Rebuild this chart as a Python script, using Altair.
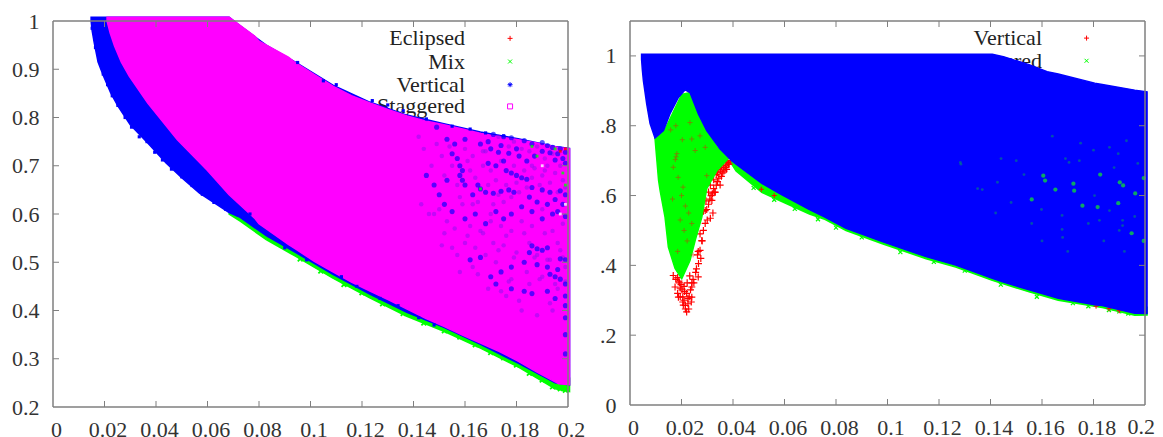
import altair as alt
import pandas as pd

RED, GREEN, BLUE, MAGENTA = "#ff0000", "#00ff00", "#0000ff", "#ff00ff"
FONT = "Liberation Serif"
W, HL, HR = 515, 386, 384

# ---------- left panel ----------
l_ticks_x = [0, .02, .04, .06, .08, .1, .12, .14, .16, .18, .2]
l_ticks_y = [.2, .3, .4, .5, .6, .7, .8, .9, 1]
l_green_x = [.0684, .0727, .0828, .0943, .1087, .123, .1374, .1518, .166, .1806, .195, .2006]
l_green_lo = [.60, .585, .547, .512, .467, .426, .388, .357, .322, .283, .238, .232]
l_green_hi = [.62, .60, .565, .53, .49, .45, .41, .38, .345, .31, .27, .26]
l_blue_x = [.0148, .0152, .016, .0175, .0196, .0225, .0253, .03, .0368, .044, .05, .0569, .0684, .0727, .0828, .0943, .1087, .123, .1374, .1518, .166, .1806, .195, .2006]
l_blue_lo = [1.0, .98, .955, .915, .886, .85, .823, .785, .747, .705, .675, .643, .603, .593, .555, .52, .475, .434, .396, .365, .330, .291, .25, .246]
l_blue_hi = [1.008] * 13 + [.99, .95, .914, .867, .832, .805, .787, .77, .756, .74, .736]
l_mag_x = [.021, .0222, .0239, .0265, .0296, .0368, .0483, .0598, .0684, .0785, .08, .0914, .0943, .1015, .1087, .1159, .1231, .1303, .1375, .1447, .1518, .159, .1662, .1734, .1806, .1878, .1964, .2006]
l_mag_lo = [1.0, .975, .948, .915, .886, .83, .754, .691, .64, .59, .58, .537, .527, .502, .48, .459, .44, .422, .403, .384, .367, .349, .332, .315, .295, .273, .248, .246]
l_mag_hi = [1.008] * 9 + [.968, .958, .925, .913, .889, .865, .845, .83, .816, .803, .793, .785, .776, .767, .76, .754, .747, .738, .735]
l_speck_x = [.190, .192, .194, .197, .199, .196, .193, .190, .198, .199, .195, .186, .183, .178, .175, .171, .169, .174, .18, .187, .184, .181, .177, .173, .17, .166, .16, .156, .153, .149,
             .158, .159, .158, .159, .16, .157, .155, .178, .18, .182, .184, .176, .172, .169, .175, .166, .168, .171, .174, .177, .179, .165, .163,
             .186, .19, .193, .197, .199, .195, .192, .188, .185, .198, .196, .199, .194, .19, .186, .182, .178, .175, .172, .168, .164, .16, .155, .152, .15, .148, .153, .145,
             .186, .188, .19, .192, .185, .197, .199, .196, .195, .197, .193, .199, .199, .199, .192, .188, .183, .178, .174, .17, .166, .162, .172, .178, .183, .186, .192, .195, .199, .199, .199]
l_speck_y = [.748, .742, .738, .735, .728, .725, .727, .73, .715, .705, .712, .745, .752, .758, .76, .765, .75, .742, .735, .72, .71, .72, .726, .728, .735, .745, .755, .745, .755, .78,
             .70, .69, .68, .67, .66, .715, .725, .685, .68, .675, .672, .69, .70, .705, .71, .652, .645, .643, .647, .65, .645, .66, .64,
             .655, .65, .645, .648, .64, .63, .62, .625, .635, .62, .605, .595, .60, .59, .605, .615, .60, .59, .605, .58, .60, .59, .605, .62, .64, .66, .67, .68,
             .534, .528, .525, .53, .52, .507, .505, .485, .47, .465, .475, .455, .43, .41, .49, .495, .50, .49, .48, .47, .51, .505, .455, .445, .44, .435, .44, .425, .385, .35, .31]
l_fuzz_x = [.142, .144, .147, .149, .151, .152, .154, .155, .157, .158, .16, .161, .162, .163, .164, .165, .167, .168, .169, .17, .171, .172, .173, .174, .175, .176, .177, .178, .179, .18,
            .181, .182, .183, .184, .185, .186, .187, .188, .189, .19, .191, .192, .193, .194, .195, .196, .197, .198, .199, .143, .146, .15, .153, .156, .159, .162, .166, .17, .174, .178,
            .182, .186, .19, .194, .198, .161, .164, .167, .171, .173, .176, .179, .183, .185, .188, .191, .193, .196, .198, .152, .155, .157, .16, .163, .168, .172, .175, .177, .18, .184,
            .187, .189, .192, .195, .197, .199, .148, .151, .158, .165, .169, .174, .178, .181, .185, .19, .193, .196, .163, .17, .176, .182, .188, .194, .199, .167, .173, .179, .186, .191]
l_fuzz_y = [.76, .735, .70, .745, .72, .68, .74, .70, .66, .635, .735, .71, .69, .72, .675, .625, .70, .73, .66, .69, .62, .67, .64, .71, .625, .66, .74, .635, .70, .665,
            .645, .735, .69, .655, .73, .675, .695, .74, .66, .68, .715, .70, .665, .725, .685, .645, .70, .67, .655, .62, .60, .61, .585, .57, .62, .575, .565, .60, .575, .565,
            .585, .575, .61, .565, .58, .555, .53, .56, .54, .525, .555, .51, .56, .54, .515, .56, .505, .54, .51, .56, .53, .515, .54, .49, .515, .50, .535, .46, .52, .48,
            .51, .465, .505, .455, .525, .49, .60, .535, .48, .475, .445, .44, .465, .42, .455, .47, .415, .445, .62, .585, .43, .40, .39, .40, .46, .73, .76, .75, .70, .69]
l_edge_x = [.095, .105, .11, .124, .13, .136, .145, .155, .162, .168, .175, .0765, .084, .09, .0985, .112, .118, .127, .134, .142, .148]
l_edge_y = [.914, .876, .868, .835, .826, .814, .797, .782, .776, .768, .762, .60, .555, .53, .505, .47, .45, .425, .41, .385, .37]
l_jag_x = [.0152, .0165, .0178, .0195, .0212, .023, .0252, .028, .0305, .0335, .0365, .0395, .0425, .046, .05, .054, .058, .0625, .067, .072]
l_jag_y = [.985, .945, .92, .89, .868, .845, .825, .80, .78, .76, .75, .728, .712, .693, .677, .659, .641, .624, .61, .597]
l_rim_x = [.096, .104, .113, .12, .128, .136, .144, .152, .158, .164, .17, .175, .18, .185, .19, .194, .197, .199]
l_rim_y = [.507, .482, .454, .437, .414, .394, .374, .358, .345, .329, .313, .302, .287, .27, .256, .242, .238, .235]
l_spark_x = [.188, .166, .198, .197, .199, .19, .199, .195, .186, .197, .199]
l_spark_y = [.72, .652, .685, .6, .66, .70, .735, .735, .74, .73, .62]
l_spark_c = [GREEN, GREEN, GREEN, "white", GREEN, "white", RED, GREEN, GREEN, RED, "white"]
l_legend_labels = ["Eclipsed", "Mix", "Vertical", "Staggered"]
l_legend_y = [.964, .916, .868, .823]
l_legend_colors = [RED, GREEN, BLUE, MAGENTA]
l_legend_shapes = ["M-1,0L1,0M0,-1L0,1", "M-.8,-.8L.8,.8M-.8,.8L.8,-.8",
                   "M-1,0L1,0M0,-1L0,1M-.7,-.7L.7,.7M-.7,.7L.7,-.7", "M-1,-1L1,-1L1,1L-1,1Z"]

# ---------- right panel ----------
r_ticks_x = l_ticks_x
r_ticks_y = [0, .2, .4, .6, .8, 1]
r_rim_x = [.0395, .0412, .0512, .0583, .0697, .0753, .0839, .098, .115, .1265, .1407, .155, .1663, .1834, .196, .2008]
r_rim_lo = [.69, .67, .609, .585, .547, .533, .5, .462, .419, .395, .357, .324, .30, .279, .257, .258]
r_rim_hi = [.72, .71, .66, .63, .58, .56, .52, .49, .44, .42, .38, .35, .32, .30, .28, .28]
r_green_x = [.0097, .0111, .0117, .0136, .0149, .0175, .0201, .0233, .0253, .0279, .0292, .0298, .0337, .0382, .0395]
r_green_lo = [.765, .643, .614, .538, .452, .391, .362, .414, .471, .538, .595, .62, .671, .706, .71]
r_green_hi = [.765, .775, .778, .79, .81, .85, .89, .895, .86, .82, .80, .79, .74, .71, .71]
r_blue_x = [.0045, .0048, .0052, .0065, .0078, .0097, .0130, .0155, .0188, .0214, .0233, .0266, .0298, .035, .0395, .0412, .0512, .0583, .0697, .0753, .0839, .098, .115, .1265, .1407, .145, .155, .162, .1663, .1805, .1834, .196, .2008]
r_blue_lo = [.99, .96, .929, .862, .806, .765, .786, .834, .881, .903, .895, .833, .786, .733, .70, .69, .635, .605, .56, .54, .506, .468, .425, .401, .363, .352, .33, .315, .306, .287, .285, .263, .262]
r_blue_hi = [1.005] * 25 + [.998, .975, .955, .948, .922, .918, .902, .897]
r_red_x = [.022, .0215, .0225, .021, .023, .0205, .0235, .0195, .024, .019, .0245, .0185, .022, .021, .0225, .0175, .0168, .0188, .0207, .024, .024, .0265, .0266, .0272, .0279, .0292, .0292, .0318, .033,
           .0298, .0305, .031, .0315, .032, .0325, .033, .0335, .034, .0345, .035, .0355, .036, .0365, .037, .0375, .038, .0385, .039, .0335, .0345, .0355, .0365, .0375, .0312, .0322,
           .0258, .0262, .0285, .028, .0275, .03, .0178, .0185, .0195, .0205, .0215, .0228, .0238, .0248, .0255, .0265, .0272, .0285, .0295, .0305, .0312, .0325, .034, .0352, .0362, .0372, .0382, .0198, .0212, .0222, .0232, .0192, .0202]
r_red_y = [.2666, .285, .29, .30, .31, .31, .33, .335, .35, .355, .36, .365, .32, .34, .305, .338, .371, .309, .286, .309, .338, .367, .405, .443, .471, .52, .557, .586, .609,
           .56, .575, .59, .60, .605, .62, .61, .63, .64, .65, .63, .655, .665, .67, .68, .675, .695, .69, .70, .66, .675, .685, .695, .70, .535, .55,
           .39, .43, .50, .47, .42, .53, .36, .32, .31, .295, .275, .275, .295, .35, .38, .44, .49, .555, .585, .61, .63, .645, .665, .67, .68, .685, .69, .345, .325, .35, .37, .35, .33]
r_red2_x = [.0179, .0176, .0182, .0158, .0233, .024, .0272, .0253, .0292, .0187, .0168, .0206, .0298, .02, .0215, .0222, .0165, .0195, .021, .0228, .0185, .024, .0203, .0178, .0245]
r_red2_y = [.711, .703, .72, .788, .809, .762, .771, .729, .738, .652, .681, .624, .657, .60, .57, .47, .59, .53, .50, .55, .44, .52, .76, .80, .43]
r_speck_x = [.1605, .1612, .1902, .1915, .1725, .1722, .1652, .156, .1757, .1816, .1896, .1962, .1826, .1948, .1995, .1995]
r_speck_y = [.657, .643, .638, .629, .614, .634, .617, .589, .571, .567, .578, .606, .66, .492, .65, .47]
r_faint_x = [.1691, .1705, .1972, .1862, .1913, .1913, .1678, .1598, .1804, .1678, .1823, .1441, .1368, .1427, .1283, .1928, .1862, .1896, .1745, .1285, .135, .15, .153, .156, .164, .168, .175, .178, .184, .188, .192, .196, .16, .17, .18, .19, .148, .142]
r_faint_y = [.706, .695, .692, .557, .529, .514, .543, .56, .60, .503, .529, .706, .617, .638, .695, .757, .738, .72, .70, .69, .62, .70, .66, .52, .77, .48, .75, .52, .47, .68, .44, .54, .47, .44, .73, .50, .58, .55]
r_edge_x = [.048, .056, .064, .073, .08, .09, .105, .118, .13, .144, .158, .172, .178, .187, .1935, .186, .19]
r_edge_y = [.622, .588, .562, .532, .508, .48, .438, .41, .385, .345, .31, .292, .283, .276, .262, .272, .268]
r_edgered_x = [.181, .186, .19, .199, .1995, .1995, .051, .056]
r_edgered_y = [.283, .276, .27, .72, .53, .33, .618, .6]
r_legend_labels = ["Vertical", "Staggered"]
r_legend_y = [1.051, .986]
r_legend_colors = [RED, GREEN]
r_legend_shapes = l_legend_shapes[:2]
r_last_label = ["0.2"]

PLUS = "M-1,0L1,0M0,-1L0,1"
CROSS = "M-.8,-.8L.8,.8M-.8,.8L.8,-.8"


def panel(width, height, xdom, ydom, xticks, yticks, ylab, extent, xlab="format(datum.value, '.2~f')"):
    xs = alt.Scale(domain=xdom, nice=False, zero=False)
    ys = alt.Scale(domain=ydom, nice=False, zero=False)
    axx = alt.Axis(values=xticks, labelExpr=xlab, title=None, tickSize=0, domain=False, grid=False,
                   labelFont=FONT, labelFontSize=22, labelColor="#333333", labelPadding=12,
                   labelOffset=3, labelFlush=False, labelOverlap=False, labelBound=False)
    axy = alt.Axis(values=yticks, labelExpr=ylab, title=None, tickSize=0, domain=False, grid=False,
                   labelFont=FONT, labelFontSize=22, labelColor="#333333", labelPadding=14,
                   labelOverlap=False, labelBound=False, minExtent=extent, maxExtent=extent)
    X = lambda f: alt.X(f + ":Q", scale=xs, axis=axx)
    Y = lambda f: alt.Y(f + ":Q", scale=ys, axis=axy)

    def area(x, lo, hi, color):
        return alt.Chart(pd.DataFrame({"x": x, "lo": lo, "hi": hi})).mark_area(
            color=color, opacity=1, stroke=color, strokeWidth=1.5, clip=False
        ).encode(x=X("x"), y=Y("lo"), y2="hi:Q")

    def pts(x, y, color, shape="square", size=12, filled=True, sw=1, opacity=1.0):
        return alt.Chart(pd.DataFrame({"x": x, "y": y})).mark_point(
            shape=shape, size=size, filled=filled, color=color, strokeWidth=sw, opacity=opacity, clip=False
        ).encode(x=X("x"), y=Y("y"))

    def text(labels, xv, y):
        return alt.Chart(pd.DataFrame({"x": [xv] * len(labels), "y": y, "t": labels})).mark_text(
            align="right", baseline="middle", font=FONT, fontSize=22, color="#222222"
        ).encode(x=X("x"), y=Y("y"), text="t:N")

    def endlabel(label, xv):
        return alt.Chart(pd.DataFrame({"x": [xv], "t": label})).mark_text(
            align="right", baseline="top", font=FONT, fontSize=22, color="#333333", dx=10, clip=False
        ).encode(x=X("x"), y=alt.value(height + 12), text="t:N")

    def frame():
        col = "#7f7f7f"
        tx = pd.DataFrame({"x": xticks[1:-1]})
        ty = pd.DataFrame({"y": [v for v in yticks if ydom[0] < v < ydom[1]]})
        one = pd.DataFrame({"a": [0]})
        return [
            alt.Chart(tx).mark_rule(color=col, strokeWidth=1).encode(x=X("x"), y=alt.value(0), y2=alt.value(6)),
            alt.Chart(tx).mark_rule(color=col, strokeWidth=1).encode(x=X("x"), y=alt.value(height), y2=alt.value(height - 6)),
            alt.Chart(ty).mark_rule(color=col, strokeWidth=1).encode(y=Y("y"), x=alt.value(0), x2=alt.value(6)),
            alt.Chart(ty).mark_rule(color=col, strokeWidth=1).encode(y=Y("y"), x=alt.value(width), x2=alt.value(width - 6)),
            alt.Chart(one).mark_rule(color=col, strokeWidth=1.5).encode(x=alt.value(0), x2=alt.value(width), y=alt.value(0)),
            alt.Chart(one).mark_rule(color=col, strokeWidth=1.5).encode(x=alt.value(0), x2=alt.value(width), y=alt.value(height)),
            alt.Chart(one).mark_rule(color=col, strokeWidth=1.5).encode(y=alt.value(0), y2=alt.value(height), x=alt.value(0)),
            alt.Chart(one).mark_rule(color=col, strokeWidth=1.5).encode(y=alt.value(0), y2=alt.value(height), x=alt.value(width)),
        ]

    return area, pts, text, frame, endlabel


# left
a, p, t, f, e = panel(W, HL, [0, .2], [.2, 1], l_ticks_x, l_ticks_y, "format(datum.value, '.1~f')", 45)
left_layers = [
    t(l_legend_labels, .16, l_legend_y),
    a(l_green_x, l_green_lo, l_green_hi, GREEN),
    p(l_rim_x, l_rim_y, GREEN, shape=CROSS, size=36, filled=False, sw=1.8),
    a(l_blue_x, l_blue_lo, l_blue_hi, BLUE),
    p(l_jag_x, l_jag_y, BLUE, size=10),
    a(l_mag_x, l_mag_lo, l_mag_hi, MAGENTA),
    p(l_edge_x, l_edge_y, BLUE, size=10),
    p(l_fuzz_x, l_fuzz_y, "#8a10f0", shape="circle", size=20, opacity=.5),
    p(l_speck_x, l_speck_y, BLUE, shape="circle", size=26, opacity=.65),
]
for sx, sy, sc in zip(l_spark_x, l_spark_y, l_spark_c):
    left_layers.append(p([sx], [sy], sc, size=8, opacity=.8))
for yv, col, sh in zip(l_legend_y, l_legend_colors, l_legend_shapes):
    left_layers.append(p([.1775], [yv], col, shape=sh, size=25, filled=False, sw=1))
left = alt.layer(*left_layers, *f()).properties(width=W, height=HL)

# right
a, p, t, f, e = panel(W, HR, [0, .2], [0, 1.1], r_ticks_x, r_ticks_y,
                      "datum.value == 0 ? '0' : datum.value == 1 ? '1' : '.' + round(datum.value * 10)", 30,
                      xlab="datum.value == 0.2 ? '' : format(datum.value, '.2~f')")
right_layers = [
    t(r_legend_labels, .16, r_legend_y),
    a(r_rim_x, r_rim_lo, r_rim_hi, GREEN),
    p(r_red_x, r_red_y, RED, shape=PLUS, size=49, filled=False, sw=1.2),
    a(r_green_x, r_green_lo, r_green_hi, GREEN),
    p(r_red2_x, r_red2_y, "#d0300a", shape=PLUS, size=25, filled=False, sw=1, opacity=.55),
    p(r_edge_x, r_edge_y, GREEN, shape=CROSS, size=25, filled=False, sw=1.2),
    p(r_edgered_x, r_edgered_y, RED, shape=PLUS, size=25, filled=False, sw=1),
    a(r_blue_x, r_blue_lo, r_blue_hi, BLUE),
    p(r_faint_x, r_faint_y, "#00a060", shape="circle", size=8, opacity=.5),
    p(r_speck_x, r_speck_y, "#10d040", shape="circle", size=18, opacity=.8),
    e(r_last_label, .2),
]
for yv, col, sh in zip(r_legend_y, r_legend_colors, r_legend_shapes):
    right_layers.append(p([.1773], [yv], col, shape=sh, size=25, filled=False, sw=1))
right = alt.layer(*right_layers, *f()).properties(width=W, height=HR)

chart = alt.hconcat(left, right, spacing=62, bounds="flush").properties(
    autosize=alt.AutoSizeParams(type="none"),
    padding={"left": 45, "top": 13, "right": 1102, "bottom": 416}, background="white"
).configure_view(stroke=None)

chart.save("out.html", embed_options={"renderer": "svg", "actions": False})
